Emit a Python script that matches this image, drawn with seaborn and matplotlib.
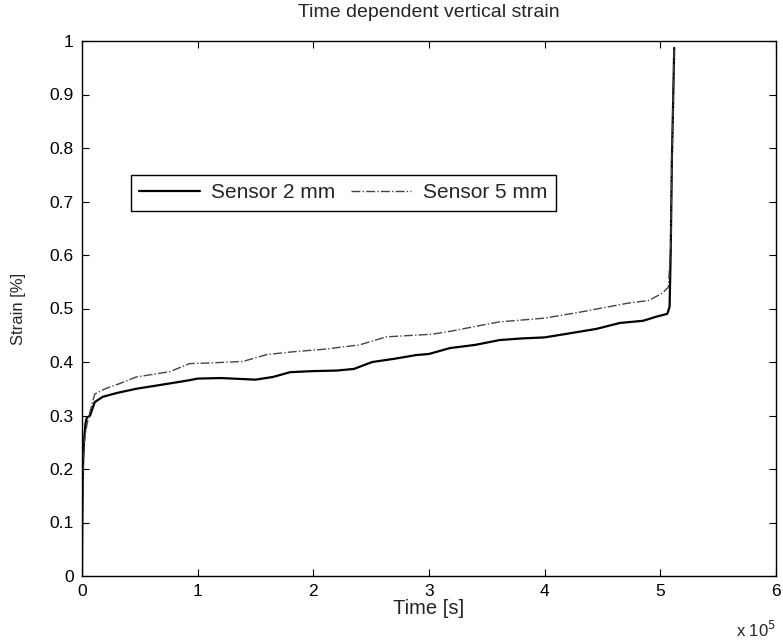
import numpy as np
import pandas as pd
import seaborn as sns
import matplotlib
matplotlib.use("Agg")
import matplotlib.pyplot as plt

# time in units of 1e5 s, strain in %
time_2mm = [0, 0.003, 0.01, 0.02, 0.03, 0.04, 0.07, 0.11, 0.18, 0.3, 0.47, 0.76, 0.93,
            1.0, 1.2, 1.5, 1.65, 1.8, 2.0, 2.2, 2.35, 2.51, 2.7, 2.89, 3.0, 3.18, 3.4,
            3.61, 3.8, 4.0, 4.2, 4.45, 4.65, 4.85, 4.97, 5.06, 5.08, 5.09, 5.10, 5.11, 5.12]
strain_2mm = [0, 0.12, 0.22, 0.26, 0.285, 0.295, 0.30, 0.325, 0.335, 0.342, 0.350, 0.360, 0.366,
              0.369, 0.370, 0.367, 0.372, 0.381, 0.383, 0.384, 0.387, 0.400, 0.406, 0.413, 0.415,
              0.426, 0.432, 0.441, 0.444, 0.446, 0.453, 0.462, 0.473, 0.477, 0.485, 0.49, 0.503,
              0.61, 0.78, 0.88, 0.987]

time_5mm = [0, 0.003, 0.01, 0.02, 0.04, 0.06, 0.085, 0.11, 0.2, 0.33, 0.47, 0.76, 0.93, 1.08,
            1.39, 1.6, 1.82, 2.1, 2.4, 2.63, 3.03, 3.2, 3.46, 3.61, 4.0, 4.3, 4.72, 4.9, 5.02,
            5.07, 5.09, 5.10, 5.11, 5.12]
strain_5mm = [0, 0.10, 0.20, 0.25, 0.28, 0.30, 0.32, 0.34, 0.35, 0.36, 0.372, 0.382, 0.397, 0.398,
              0.401, 0.414, 0.419, 0.424, 0.432, 0.447, 0.452, 0.458, 0.469, 0.475, 0.482, 0.493,
              0.51, 0.515, 0.529, 0.54, 0.62, 0.78, 0.88, 0.985]

x_ticks = [0, 1, 2, 3, 4, 5, 6]
y_ticks = [0, 0.1, 0.2, 0.3, 0.4, 0.5, 0.6, 0.7, 0.8, 0.9, 1]
y_tick_labels = ["0", "0.1", "0.2", "0.3", "0.4", "0.5", "0.6", "0.7", "0.8", "0.9", "1"]

df2 = pd.DataFrame({"time": time_2mm, "strain": strain_2mm})
df5 = pd.DataFrame({"time": time_5mm, "strain": strain_5mm})

sns.set_theme(style="white")
plt.rcParams["font.family"] = ["Liberation Sans", "DejaVu Sans"]

fig = plt.figure(figsize=(7.83, 6.44), dpi=100)
ax = fig.add_axes([82 / 783, (644 - 576) / 644, 694 / 783, 535 / 644])

sns.lineplot(data=df2, x="time", y="strain", ax=ax, color="black", lw=1.6,
             estimator=None, sort=False, label="Sensor 2 mm")
sns.lineplot(data=df5, x="time", y="strain", ax=ax, color="#444444", lw=1.0,
             linestyle="-.", estimator=None, sort=False, label="Sensor 5 mm")

ax.set_xlim(0, 6)
ax.set_ylim(0, 1)
ax.set_xticks(x_ticks)
ax.set_xticklabels([str(t) for t in x_ticks])
ax.set_yticks(y_ticks)
ax.set_yticklabels(y_tick_labels)
ax.tick_params(direction="in", length=5, width=0.8, colors="black", labelsize=12.5,
               top=True, right=True, bottom=True, left=True, pad=6)
for sp in ax.spines.values():
    sp.set_color("black")
    sp.set_linewidth(1.0)

ax.set_title("Time dependent vertical strain", fontsize=14, pad=17)
ax.set_xlabel("Time [s]", fontsize=14.5, labelpad=0)
ax.set_ylabel("Strain [%]", fontsize=12, labelpad=17)
ax.text(1.0, -0.1, "x 10$^5$", transform=ax.transAxes, ha="right", va="center", fontsize=12)

leg = ax.legend(loc="upper left", bbox_to_anchor=(0.0706, 0.7495), ncol=2, fontsize=15,
                frameon=True, fancybox=False, edgecolor="black", framealpha=1,
                handlelength=2.9, handletextpad=0.55, columnspacing=0.75,
                borderpad=0.4, borderaxespad=0)
leg.get_frame().set_linewidth(1.0)

fig.savefig("out.png", dpi=100, facecolor="white")
